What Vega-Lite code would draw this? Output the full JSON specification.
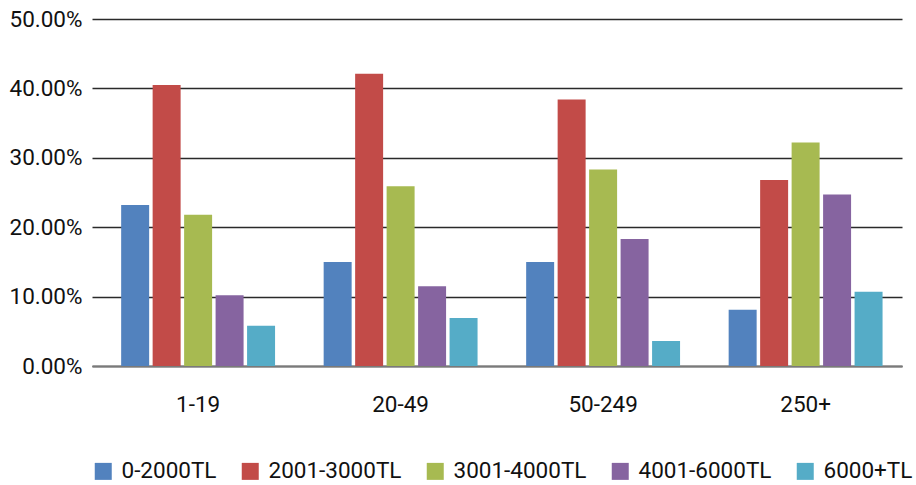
{
  "$schema": "https://vega.github.io/schema/vega-lite/v6.json",
  "width": 810,
  "height": 347,
  "autosize": {"type": "none"},
  "padding": {"left": 92, "top": 19, "right": 14, "bottom": 119},
  "background": "white",
  "config": {
    "view": {"stroke": null},
    "font": "Roboto"
  },
  "data": {
    "values": [
      {"size": "1-19", "wage": "0-2000TL", "value": 0.232},
      {"size": "1-19", "wage": "2001-3000TL", "value": 0.405},
      {"size": "1-19", "wage": "3001-4000TL", "value": 0.218},
      {"size": "1-19", "wage": "4001-6000TL", "value": 0.102},
      {"size": "1-19", "wage": "6000+TL", "value": 0.058},
      {"size": "20-49", "wage": "0-2000TL", "value": 0.150},
      {"size": "20-49", "wage": "2001-3000TL", "value": 0.421},
      {"size": "20-49", "wage": "3001-4000TL", "value": 0.259},
      {"size": "20-49", "wage": "4001-6000TL", "value": 0.115},
      {"size": "20-49", "wage": "6000+TL", "value": 0.069},
      {"size": "50-249", "wage": "0-2000TL", "value": 0.150},
      {"size": "50-249", "wage": "2001-3000TL", "value": 0.384},
      {"size": "50-249", "wage": "3001-4000TL", "value": 0.283},
      {"size": "50-249", "wage": "4001-6000TL", "value": 0.183},
      {"size": "50-249", "wage": "6000+TL", "value": 0.036},
      {"size": "250+", "wage": "0-2000TL", "value": 0.081},
      {"size": "250+", "wage": "2001-3000TL", "value": 0.268},
      {"size": "250+", "wage": "3001-4000TL", "value": 0.322},
      {"size": "250+", "wage": "4001-6000TL", "value": 0.247},
      {"size": "250+", "wage": "6000+TL", "value": 0.107}
    ]
  },
  "mark": {"type": "bar"},
  "encoding": {
    "x": {
      "field": "size",
      "type": "nominal",
      "sort": ["1-19", "20-49", "50-249", "250+"],
      "scale": {"paddingInner": 0.24, "paddingOuter": 0.12, "align": 0.6},
      "axis": {
        "title": null,
        "labelAngle": 0,
        "labelFontSize": 22.5,
        "labelColor": "#111",
        "labelPadding": 27,
        "ticks": false,
        "domain": true,
        "domainColor": "#7a7a7a",
        "domainWidth": 2
      }
    },
    "xOffset": {
      "field": "wage",
      "type": "nominal",
      "sort": ["0-2000TL", "2001-3000TL", "3001-4000TL", "4001-6000TL", "6000+TL"],
      "scale": {"paddingInner": 0.111, "paddingOuter": 0}
    },
    "y": {
      "field": "value",
      "type": "quantitative",
      "scale": {"domain": [0, 0.5], "nice": false},
      "axis": {
        "title": null,
        "format": ".2%",
        "values": [0, 0.1, 0.2, 0.3, 0.4, 0.5],
        "labelFontSize": 22.5,
        "labelColor": "#111",
        "labelPadding": 10,
        "ticks": false,
        "domain": false,
        "grid": true,
        "gridColor": "#2a2a2a",
        "gridWidth": 1.3
      }
    },
    "color": {
      "field": "wage",
      "type": "nominal",
      "sort": ["0-2000TL", "2001-3000TL", "3001-4000TL", "4001-6000TL", "6000+TL"],
      "scale": {
        "domain": ["0-2000TL", "2001-3000TL", "3001-4000TL", "4001-6000TL", "6000+TL"],
        "range": ["#5282BE", "#C24B48", "#A7BA51", "#8664A0", "#55ACC7"]
      },
      "legend": {
        "title": null,
        "orient": "bottom",
        "direction": "horizontal",
        "offset": 44,
        "symbolType": "square",
        "symbolSize": 289,
        "symbolStrokeWidth": 0,
        "labelFontSize": 22.5,
        "labelColor": "#111",
        "labelOffset": 7,
        "labelLimit": 300,
        "columnPadding": 22,
        "padding": 0
      }
    }
  }
}
